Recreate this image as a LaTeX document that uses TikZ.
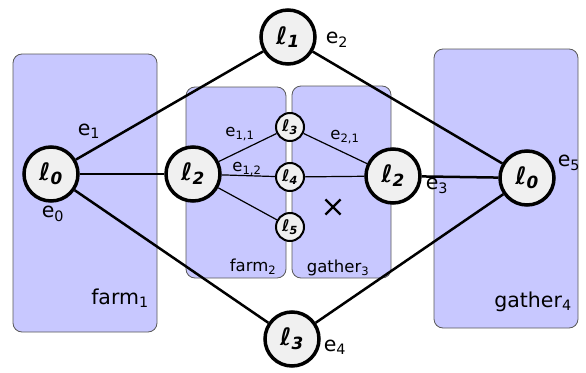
\documentclass[tikz,border=0pt]{standalone}
\usepackage{fontspec}
\setmainfont{DejaVu Sans}
\usetikzlibrary{backgrounds,shapes.misc}
\definecolor{boxblue}{RGB}{200,200,255}
\definecolor{nodegray}{RGB}{240,240,240}
\newcommand{\hl}[1]{{\bfseries\itshape ℓ\textsubscript{#1}}}
\tikzset{
  big/.style={circle,draw,line width=3.5pt,fill=nodegray,minimum size=54pt,inner sep=0pt,font=\fontsize{24}{24}\selectfont},
  small/.style={circle,draw,line width=2pt,fill=nodegray,minimum size=28pt,inner sep=0pt,font=\fontsize{16}{16}\selectfont},
  box/.style={draw=black!65,fill=boxblue,rounded corners=9pt,line width=0.8pt,inner sep=0pt},
  heavy/.style={line width=2.5pt},
  light/.style={line width=1.2pt},
  lab/.style={inner sep=0pt,font=\fontsize{20.5}{20}\selectfont},
  slab/.style={inner sep=0pt,font=\fontsize{16.5}{16}\selectfont}
}
\begin{document}
\begin{tikzpicture}[x=1pt,y=-1pt]
\useasboundingbox (0,0) rectangle (586,372);

\node[big](A) at (51,174){\hl{0}};
\node[big](B1) at (288,37){\hl{1}};
\node[big](B2) at (193,174){\hl{2}};
\node[big](B3) at (292,339){\hl{3}};
\node[small](C3) at (290,127){\hl{3}};
\node[small](C4) at (290,177){\hl{4}};
\node[small](C5) at (290,227){\hl{5}};
\node[big](D2) at (393,176){\hl{2}};
\node[big](E) at (527,178){\hl{0}};

\draw[heavy](A)--(B1);
\draw[heavy](A)--(B2);
\draw[heavy](A)--(B3);
\draw[heavy](B1)--(E);
\draw[heavy](D2)--(E);
\draw[heavy](B3)--(E);

\draw[light](B2)--(C3);
\draw[light](B2)--(C4);
\draw[light](B2)--(C5);
\draw[light](C3)--(D2);
\draw[light](C4)--(D2);

\node[cross out,draw,line width=2.2pt,minimum size=13pt,inner sep=0pt](X) at (333,207){};

\begin{scope}[on background layer]
\node[box,minimum width=144pt,minimum height=278pt](F1) at (85,193){};
\node[box,minimum width=100pt,minimum height=191pt](F2) at (236,182.5){};
\node[box,minimum width=99pt,minimum height=192pt](G3) at (341.5,182){};
\node[box,minimum width=144pt,minimum height=279pt](G4) at (506,188.5){};
\end{scope}

\node[lab](e0) at (53,214){e\textsubscript{0}};
\node[lab](e1) at (89,131){e\textsubscript{1}};
\node[lab](e2) at (337,40){e\textsubscript{2}};
\node[lab](e3) at (437,186){e\textsubscript{3}};
\node[lab](e4) at (335,347){e\textsubscript{4}};
\node[lab](e5) at (569,163){e\textsubscript{5}};
\node[slab](e11) at (240,134){e\textsubscript{1,1}};
\node[slab](e12) at (247,169){e\textsubscript{1,2}};
\node[slab](e21) at (345,137){e\textsubscript{2,1}};

\node[lab](f1) at (120,298){farm\textsubscript{1}};
\node[slab](f2) at (253,267){farm\textsubscript{2}};
\node[slab](g3) at (338,268){gather\textsubscript{3}};
\node[lab](g4) at (533,302){gather\textsubscript{4}};
\end{tikzpicture}
\end{document}
